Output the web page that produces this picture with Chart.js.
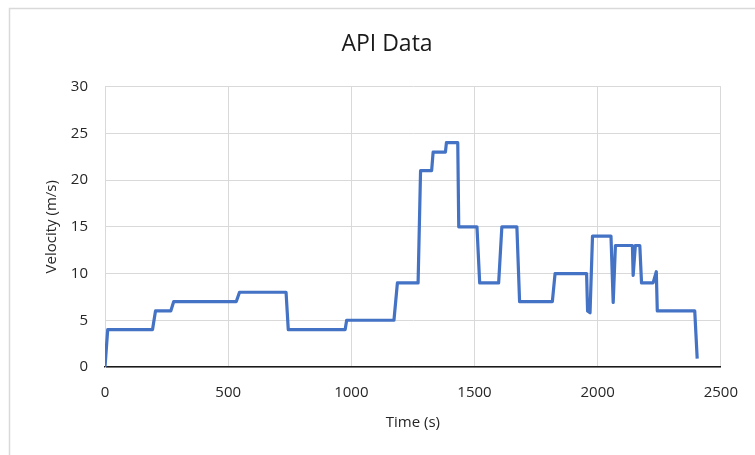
<!DOCTYPE html>
<html>
<head>
<meta charset="utf-8">
<script src="https://cdn.jsdelivr.net/npm/chart.js@4"></script>
<style>
  body { margin: 0; background: #fff; }
  canvas { display: block; }
</style>
</head>
<body>
<canvas id="myChart" width="755" height="455"></canvas>
<script>
// readings
const timeS = [0, 11, 193, 205, 267, 279, 533, 546, 735, 744, 975, 981, 1173, 1187, 1271, 1281,
  1326, 1332, 1382, 1386, 1432, 1436, 1510, 1521, 1598, 1611, 1672, 1683, 1816, 1827,
  1955, 1959, 1969, 1979, 2054, 2063, 2072, 2141, 2144, 2153, 2171, 2178, 2225, 2238,
  2242, 2394, 2404]
const velocity = [0, 4, 4, 6, 6, 7, 7, 8, 8, 4, 4, 5, 5, 9, 9, 21,
  21, 23, 23, 24, 24, 15, 15, 9, 9, 15, 15, 7, 7, 10,
  10, 6, 5.8, 14, 14, 6.9, 13, 13, 9.8, 13, 13, 9, 9, 10.2,
  6, 6, 0.9]
const xTicks = [0, 500, 1000, 1500, 2000, 2500]
const yTicks = [0, 5, 10, 15, 20, 25, 30]

const points = timeS.map((t, i) => ({ x: t, y: velocity[i] }))

const frame = {
  id: 'frame',
  afterLayout (chart) {
    // centre the title over the framed area like the original
    chart.titleBlock.left = 51
    chart.titleBlock.right = 723
  },
  beforeDraw (chart) {
    const c = chart.ctx
    c.save()
    c.fillStyle = '#fff'
    c.fillRect(0, 0, chart.width, chart.height)
    c.strokeStyle = '#d9d9d9'
    c.lineWidth = 1.5
    c.strokeRect(9.5, 8.5, 900, 600)
    c.restore()
  }
}

const tickFont = { family: 'Open Sans', size: 15 }

const ctx = document.getElementById('myChart')
new Chart(ctx, {
  type: 'line',
  data: {
    datasets: [{
      data: points,
      borderColor: '#4472C4',
      borderWidth: 3.2,
      borderJoinStyle: 'round',
      pointRadius: 0,
      tension: 0
    }]
  },
  options: {
    responsive: false,
    animation: false,
    layout: { padding: { left: 0, right: 32, top: 0, bottom: 0 } },
    plugins: {
      legend: { display: false },
      tooltip: { enabled: false },
      title: {
        display: true,
        text: 'API Data',
        color: '#1a1a1a',
        font: { family: 'Open Sans', size: 23, weight: 'normal' },
        padding: { top: 31, bottom: 28 }
      }
    },
    scales: {
      x: {
        type: 'linear',
        min: 0,
        max: 2500,
        afterBuildTicks: (s) => { s.ticks = xTicks.map(v => ({ value: v })) },
        afterFit: (s) => { s.height = 88 },
        grid: { color: '#d9d9d9', drawTicks: false },
        border: { color: '#1a1a1a', width: 1.5 },
        ticks: {
          padding: 17,
          color: '#262626',
          font: tickFont,
          maxRotation: 0,
          callback: (v) => String(v)
        },
        title: {
          display: true,
          text: 'Time (s)',
          color: '#262626',
          font: tickFont,
          padding: { top: 0, bottom: 23 }
        }
      },
      y: {
        min: 0,
        max: 30,
        afterBuildTicks: (s) => { s.ticks = yTicks.map(v => ({ value: v })) },
        afterFit: (s) => { s.width = 105 },
        grid: { color: '#d9d9d9', drawTicks: false },
        border: { color: '#d9d9d9' },
        ticks: {
          padding: 17,
          color: '#262626',
          font: tickFont,
          callback: (v) => String(v)
        },
        title: {
          display: true,
          text: 'Velocity (m/s)',
          color: '#262626',
          font: tickFont,
          padding: { top: 43, bottom: 0 }
        }
      }
    }
  },
  plugins: [frame]
})
</script>
</body>
</html>
